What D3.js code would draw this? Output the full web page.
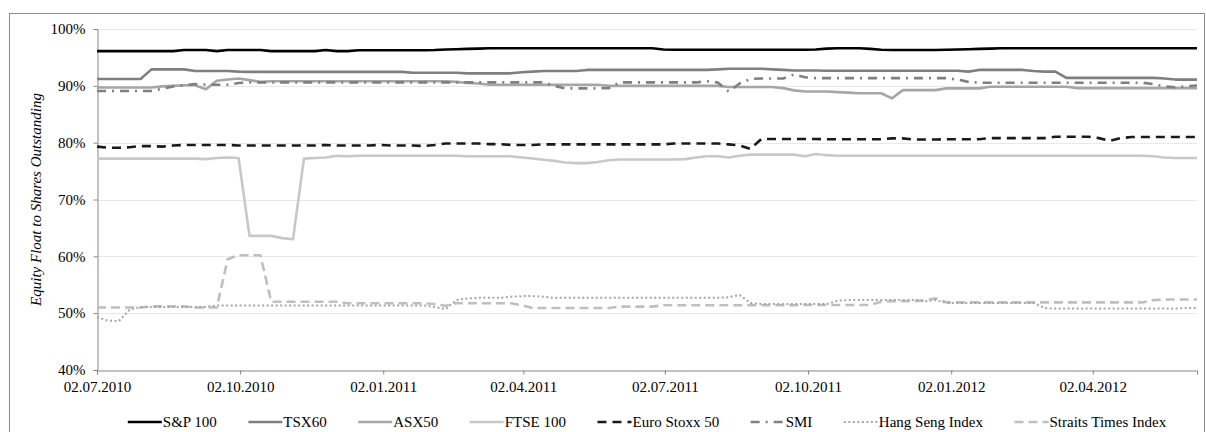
<!DOCTYPE html>
<html><head><meta charset="utf-8">
<script src="https://cdn.jsdelivr.net/npm/d3@7"></script>
<style>html,body{margin:0;padding:0;background:#fff;}svg{display:block;}</style>
</head><body>
<script>
const seriesNames = ["S&P 100","TSX60","ASX50","FTSE 100","Euro Stoxx 50","SMI","Hang Seng Index","Straits Times Index"];
const startDate = "02.07.2010";
const tickLabels = ["02.07.2010","02.10.2010","02.01.2011","02.04.2011","02.07.2011","02.10.2011","02.01.2012","02.04.2012"];
const yTicks = [0.4,0.5,0.6,0.7,0.8,0.9,1.0];

const sp100 = [96.1,96.1,96.1,96.1,96.1,96.1,96.1,96.1,96.3,96.3,96.3,96.1,96.3,96.3,96.3,96.3,96.1,96.1,96.1,96.1,96.1,96.3,96.1,96.1,96.25,96.25,96.25,96.25,96.25,96.25,96.25,96.3,96.4,96.45,96.5,96.55,96.6,96.6,96.6,96.6,96.6,96.6,96.6,96.6,96.6,96.6,96.6,96.6,96.6,96.6,96.6,96.6,96.4,96.35,96.35,96.35,96.35,96.35,96.35,96.35,96.35,96.35,96.35,96.35,96.35,96.35,96.4,96.55,96.6,96.6,96.6,96.5,96.35,96.3,96.3,96.3,96.3,96.3,96.35,96.4,96.45,96.5,96.55,96.6,96.6,96.6,96.6,96.6,96.6,96.6,96.6,96.6,96.6,96.6,96.6,96.6,96.6,96.6,96.6,96.6,96.6,96.6];
const tsx60 = [91.2,91.2,91.2,91.2,91.2,92.9,92.9,92.9,92.9,92.6,92.6,92.6,92.6,92.5,92.45,92.45,92.45,92.45,92.45,92.45,92.45,92.45,92.45,92.45,92.45,92.45,92.45,92.45,92.45,92.3,92.3,92.3,92.3,92.3,92.2,92.2,92.2,92.2,92.2,92.4,92.5,92.6,92.6,92.6,92.6,92.8,92.8,92.8,92.8,92.8,92.8,92.8,92.8,92.8,92.8,92.8,92.8,92.9,93.0,93.0,93.0,93.0,92.9,92.8,92.7,92.7,92.7,92.65,92.65,92.65,92.65,92.65,92.65,92.65,92.65,92.65,92.65,92.65,92.65,92.65,92.5,92.8,92.8,92.8,92.8,92.8,92.6,92.5,92.5,91.4,91.4,91.4,91.4,91.4,91.4,91.4,91.4,91.4,91.3,91.1,91.1,91.1];
const asx50 = [89.7,89.7,89.7,89.7,89.7,89.7,89.9,90.0,90.1,90.1,89.4,90.9,91.1,91.3,91.0,90.7,90.8,90.8,90.8,90.8,90.8,90.8,90.8,90.8,90.8,90.8,90.8,90.8,90.8,90.8,90.8,90.8,90.8,90.7,90.5,90.4,90.2,90.2,90.2,90.2,90.2,90.2,90.2,90.2,90.2,90.2,90.2,90.0,90.0,90.0,90.0,90.0,90.0,90.0,90.0,90.0,90.0,90.0,89.8,89.8,89.8,89.8,89.8,89.6,89.2,89.0,89.0,89.0,88.9,88.8,88.7,88.7,88.7,87.8,89.25,89.25,89.25,89.25,89.55,89.55,89.55,89.55,89.85,89.85,89.85,89.85,89.85,89.85,89.85,89.85,89.6,89.6,89.6,89.6,89.6,89.6,89.6,89.6,89.6,89.6,89.6,89.6];
const ftse100 = [77.2,77.2,77.2,77.2,77.2,77.2,77.2,77.2,77.2,77.2,77.1,77.3,77.4,77.3,63.6,63.6,63.6,63.2,63.0,77.2,77.3,77.4,77.7,77.6,77.7,77.7,77.7,77.7,77.7,77.7,77.7,77.7,77.7,77.7,77.6,77.6,77.6,77.6,77.6,77.4,77.2,77.0,76.8,76.5,76.4,76.4,76.6,76.9,77.05,77.05,77.05,77.05,77.05,77.05,77.1,77.4,77.6,77.6,77.4,77.7,77.9,77.9,77.9,77.9,77.9,77.6,78.0,77.8,77.7,77.7,77.7,77.7,77.7,77.7,77.7,77.7,77.7,77.7,77.7,77.7,77.7,77.7,77.7,77.7,77.7,77.7,77.7,77.7,77.7,77.7,77.7,77.7,77.7,77.7,77.7,77.7,77.7,77.6,77.4,77.3,77.3,77.3];
const euroStoxx50 = [79.3,79.1,79.1,79.2,79.4,79.4,79.3,79.5,79.6,79.6,79.6,79.6,79.6,79.5,79.5,79.5,79.5,79.5,79.5,79.5,79.5,79.6,79.5,79.5,79.5,79.5,79.6,79.5,79.5,79.5,79.4,79.6,79.85,79.85,79.85,79.85,79.75,79.75,79.6,79.6,79.6,79.7,79.7,79.7,79.7,79.7,79.7,79.7,79.7,79.7,79.7,79.7,79.7,79.85,79.85,79.85,79.85,79.85,79.7,79.5,78.9,80.65,80.65,80.65,80.65,80.65,80.65,80.6,80.6,80.6,80.6,80.6,80.6,80.75,80.75,80.55,80.55,80.55,80.6,80.6,80.6,80.6,80.8,80.8,80.8,80.8,80.8,80.8,81.05,81.05,81.05,81.05,80.8,80.3,80.8,81.0,81.0,81.0,81.0,81.0,81.0,81.0];
const smi = [89.1,89.1,89.1,89.1,89.1,89.1,89.5,89.9,90.1,90.3,90.2,90.2,90.2,90.5,90.6,90.6,90.6,90.6,90.6,90.6,90.6,90.6,90.6,90.6,90.6,90.6,90.6,90.6,90.6,90.6,90.6,90.6,90.6,90.6,90.6,90.6,90.6,90.6,90.6,90.6,90.6,90.6,90.0,89.55,89.55,89.55,89.55,89.6,90.6,90.6,90.6,90.6,90.6,90.6,90.6,90.6,90.8,90.6,89.0,90.4,91.2,91.3,91.3,91.3,92.0,91.5,91.35,91.35,91.35,91.35,91.35,91.35,91.35,91.35,91.35,91.35,91.35,91.35,91.35,91.1,90.7,90.55,90.55,90.55,90.55,90.55,90.55,90.55,90.55,90.55,90.55,90.55,90.55,90.55,90.55,90.55,90.55,90.3,89.9,89.75,89.9,90.05];
const hangSeng = [49.3,48.7,48.6,50.6,51.1,51.1,51.1,51.1,51.1,51.1,51.1,51.35,51.35,51.35,51.35,51.35,51.35,51.35,51.35,51.35,51.35,51.35,51.35,51.35,51.35,51.35,51.35,51.35,51.35,51.35,51.35,51.1,50.7,52.3,52.6,52.7,52.7,52.7,52.9,53.0,53.0,52.9,52.7,52.7,52.7,52.7,52.7,52.7,52.7,52.7,52.7,52.7,52.7,52.7,52.7,52.7,52.7,52.7,52.8,53.2,51.8,51.6,51.6,51.6,51.6,51.6,51.6,51.6,52.2,52.3,52.3,52.3,52.3,52.3,52.3,52.3,52.1,52.3,51.8,51.8,51.8,51.8,51.8,51.8,51.8,51.8,51.8,50.9,50.8,50.8,50.8,50.8,50.8,50.8,50.8,50.8,50.8,50.8,50.8,50.8,50.9,50.9];
const straitsTimes = [51.0,51.0,51.0,51.0,51.0,51.2,51.2,51.2,51.2,51.0,51.0,51.0,59.5,60.2,60.2,60.2,52.0,52.0,52.0,52.0,52.0,52.0,52.0,51.75,51.75,51.75,51.75,51.75,51.75,51.75,51.75,51.6,51.3,51.75,51.75,51.75,51.75,51.75,51.75,51.4,50.9,50.9,50.9,50.9,50.9,50.9,50.9,50.9,51.15,51.15,51.15,51.15,51.4,51.4,51.4,51.4,51.4,51.4,51.4,51.4,51.4,51.4,51.4,51.4,51.4,51.45,51.45,51.45,51.45,51.45,51.45,51.45,52.0,52.1,52.1,52.1,52.3,52.6,51.9,51.9,51.9,51.9,51.9,51.9,51.9,51.9,51.9,51.9,51.9,51.9,51.9,51.9,51.9,51.9,51.9,51.9,51.9,52.3,52.4,52.4,52.4,52.4];

const seriesValues = [sp100, tsx60, asx50, ftse100, euroStoxx50, smi, hangSeng, straitsTimes];
const styles = [
  {color:"#000000", width:2.6, dash:null},
  {color:"#7f7f7f", width:2.6, dash:null},
  {color:"#a6a6a6", width:2.6, dash:null},
  {color:"#c8c8c8", width:2.6, dash:null},
  {color:"#1a1a1a", width:2.6, dash:"9,6"},
  {color:"#808080", width:2.6, dash:"9,6,2,6"},
  {color:"#a6a6a6", width:2.0, dash:"2,2.5"},
  {color:"#bfbfbf", width:2.6, dash:"9,5"}
];

const W = 1206, H = 432;
const m = {left:97, right:1197, top:29, bottom:370};
const parse = d3.timeParse("%d.%m.%Y");
const start = parse(startDate);
const dates = sp100.map((_, i) => d3.timeDay.offset(start, 7 * i));

const svg = d3.select("body").append("svg").attr("width", W).attr("height", H);
svg.append("rect").attr("width", W).attr("height", H).attr("fill", "#fff");
svg.append("rect").attr("x", 9.5).attr("y", 13.5).attr("width", 1195).attr("height", 430)
  .attr("fill", "none").attr("stroke", "#8c8c8c").attr("stroke-width", 1);

const x = d3.scaleTime().domain([dates[0], dates[dates.length - 1]]).range([m.left, m.right]);
const y = d3.scaleLinear().domain([0.4, 1.0]).range([m.bottom, m.top]);

const font = "'Liberation Serif','Times New Roman',serif";

// gridlines
svg.append("g").selectAll("line").data(yTicks.filter(t => t > 0.4)).join("line")
  .attr("x1", m.left).attr("x2", m.right)
  .attr("y1", d => Math.round(y(d)) + 0.5).attr("y2", d => Math.round(y(d)) + 0.5)
  .attr("stroke", "#e8e8e8").attr("stroke-width", 1);

// y axis
const yAxis = d3.axisLeft(y).tickValues(yTicks).tickFormat(d3.format(".0%")).tickSize(4).tickPadding(8);
const gy = svg.append("g").attr("transform", `translate(${m.left + 0.5},0)`).call(yAxis);
gy.select(".domain").attr("stroke", "#868686");
gy.selectAll(".tick line").attr("stroke", "#868686");
gy.selectAll("text").attr("font-family", font).attr("font-size", 15).attr("fill", "#000");

// x axis
const xTickDates = tickLabels.map(parse);
const xAxis = d3.axisBottom(x).tickValues(xTickDates).tickFormat(d3.timeFormat("%d.%m.%Y")).tickSize(4).tickPadding(7);
const gx = svg.append("g").attr("transform", `translate(0,${m.bottom + 0.5})`).call(xAxis);
gx.select(".domain").attr("stroke", "#868686");
gx.selectAll(".tick line").attr("stroke", "#868686");
gx.selectAll("text").attr("font-family", font).attr("font-size", 15).attr("fill", "#000");

// y label
svg.append("text").attr("transform", `translate(41,${(m.top + m.bottom) / 2}) rotate(-90)`)
  .attr("text-anchor", "middle").attr("font-family", font).attr("font-style", "italic")
  .attr("font-size", 15).text("Equity Float to Shares Outstanding");

// lines
const line = d3.line().x((d, i) => x(dates[i])).y(d => y(d / 100));
const order = [7, 6, 3, 2, 5, 1, 4, 0];
order.forEach(k => {
  const p = svg.append("path").datum(seriesValues[k]).attr("d", line)
    .attr("fill", "none").attr("stroke", styles[k].color).attr("stroke-width", styles[k].width)
    .attr("stroke-linejoin", "round");
  if (styles[k].dash) p.attr("stroke-dasharray", styles[k].dash);
});

// legend
const lg = svg.append("g");
const items = [];
seriesNames.forEach((name, k) => {
  const g = lg.append("g");
  const ln = g.append("line").attr("x1", 0).attr("x2", 34).attr("y1", 0).attr("y2", 0)
    .attr("stroke", styles[k].color).attr("stroke-width", styles[k].width);
  if (styles[k].dash) ln.attr("stroke-dasharray", styles[k].dash);
  const t = g.append("text").attr("x", 35).attr("y", 5).attr("font-family", font)
    .attr("font-size", 15).text(name);
  items.push({g, w: 35 + t.node().getComputedTextLength()});
});
const gap = 31.5;
const total = d3.sum(items, d => d.w) + gap * (items.length - 1);
let cx = (m.left + m.right) / 2 - total / 2;
items.forEach(it => { it.g.attr("transform", `translate(${cx},422)`); cx += it.w + gap; });
</script>
</body></html>
